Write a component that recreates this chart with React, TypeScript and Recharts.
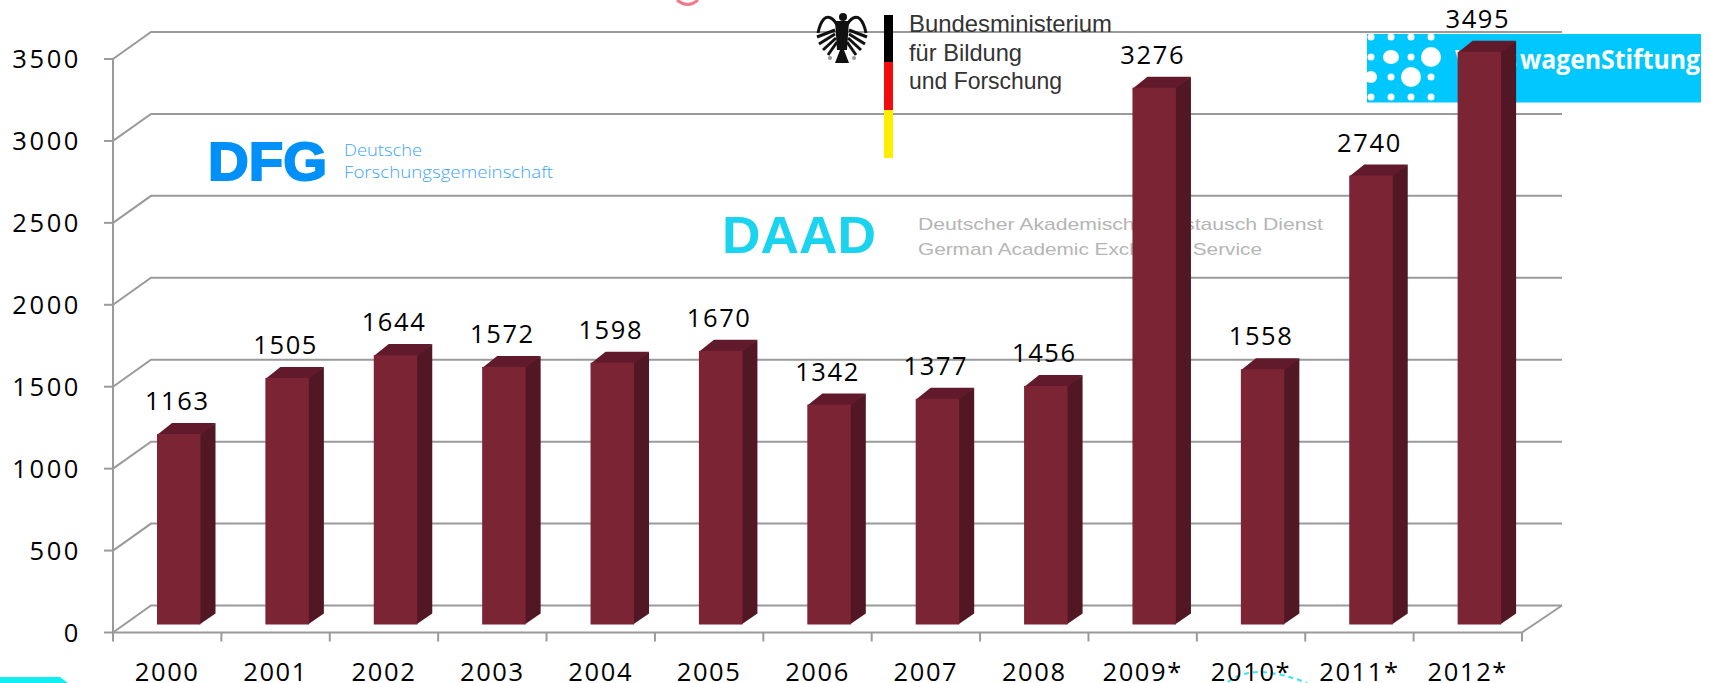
import React from 'react';
import { ComposedChart, Bar, XAxis, YAxis, CartesianGrid, LabelList } from 'recharts';

const years = ['2000','2001','2002','2003','2004','2005','2006','2007','2008','2009*','2010*','2011*','2012*'];
const counts = [1163,1505,1644,1572,1598,1670,1342,1377,1456,3276,1558,2740,3495];
const yTicks = [0,500,1000,1500,2000,2500,3000,3500];
const rows = years.map((year, i) => ({ year, count: counts[i] }));

const W = 1710, H = 683;
const LEFT = 113, RIGHT = 1522, TOP = 59, BOTTOM = 632.5;
const STEP = (RIGHT - LEFT) / years.length;
const GRID = '#9a9a9a';
const FONT = '"Open Sans", sans-serif';
const FS = 25.5;
const LS = 1.6;

const GridLine = (p: any) => {
  const { x1, x2, y1 } = p;
  const isFloor = y1 > 600;
  return (
    <g>
      <path d={`M${x1} ${y1}L${x1 + 38} ${y1 - 27}L${x2 + 40} ${y1 - 27}`} fill="none" stroke={GRID} strokeWidth={2} />
      {isFloor && <path d={`M${x2} ${y1}L${x2 + 40} ${y1 - 27}`} fill="none" stroke={GRID} strokeWidth={2} />}
    </g>
  );
};

const Bar3D = (p: any) => {
  const { x, y, width, height } = p;
  const fx = x + 12, fy = y - 8;
  const dx = 15, dy = 11;
  return (
    <g>
      <polygon points={`${fx + width - 1},${fy} ${fx + width + dx},${fy - dy} ${fx + width + dx},${fy + height - dy} ${fx + width - 1},${fy + height}`} fill="#521725" />
      <polygon points={`${fx},${fy + 1} ${fx + dx},${fy - dy} ${fx + width + dx},${fy - dy} ${fx + width},${fy + 1}`} fill="#611a2b" />
      <rect x={fx} y={fy} width={width} height={height} fill="#7b2434" />
    </g>
  );
};

const BarLabel = (p: any) => {
  const { x, y, width, value } = p;
  return (
    <text x={x + width / 2 + 10.5} y={y - 32} textAnchor="middle" fontFamily={FONT} fontSize={FS} letterSpacing={LS} fill="#000">
      {value}
    </text>
  );
};

const XTick = (p: any) => {
  const { x, y, payload, index } = p;
  return (
    <g>
      <line x1={x - STEP / 2} x2={x - STEP / 2} y1={y} y2={y + 9} stroke={GRID} strokeWidth={2} />
      {index === years.length - 1 && <line x1={x + STEP / 2} x2={x + STEP / 2} y1={y} y2={y + 9} stroke={GRID} strokeWidth={2} />}
      <text x={x} y={y + 48} textAnchor="middle" fontFamily={FONT} fontSize={FS} letterSpacing={LS} fill="#000">
        {payload.value}
      </text>
    </g>
  );
};

const YTick = (p: any) => {
  const { x, y, payload } = p;
  return (
    <text x={x - 21} y={y + 9} textAnchor="end" fontFamily={FONT} fontSize={FS} letterSpacing={2.6} fill="#000">
      {payload.value}
    </text>
  );
};

const vwDots: [number, number, number, number][] = [
  [1371,37,3.5,3.5],[1391,37,3.5,3.5],[1411,37,3.5,3.5],[1431,37,3.5,3.5],
  [1371,57,3.5,3.5],[1391,57,8,7],[1411,57,3.5,3.5],[1431,57,10,10],
  [1371,77,6,6],[1391,77,3.5,3.5],[1411,77,10,10],[1431,77,3.5,3.5],
  [1371,97,3.5,3.5],[1391,97,3.5,3.5],[1411,97,3.5,3.5],[1431,97,3.5,3.5],
];

const feathers = [
  [835, 30, 817, 37],
  [835, 34, 819, 44],
  [836, 38, 823, 50],
  [837, 42, 828, 55],
];

const Eagle = () => (
  <g>
    <g fill="none" stroke="#111" strokeWidth={3}>
      <path d="M838 27C834 18 828 15 824 19C820 23 819 28 818 33" />
      <path d="M846 27C850 18 856 15 860 19C864 23 865 28 866 33" />
      {feathers.map(([a, b, c, d], i) => (
        <g key={i}>
          <line x1={a} y1={b} x2={c} y2={d} />
          <line x1={2 * 842 - a} y1={b} x2={2 * 842 - c} y2={d} />
        </g>
      ))}
    </g>
    <circle cx={843} cy={17} r={4} fill="#111" />
    <polygon points="835,21 849,21 847,50 837,50" fill="#111" />
    <polygon points="840,50 844,50 849,63 835,63" fill="#111" />
    <g fill="#999">
      <circle cx={830} cy={58} r={2} />
      <circle cx={854} cy={58} r={2} />
    </g>
  </g>
);

const Logos = () => (
  <g>
    {/* DFG */}
    <text x={208} y={180} fontFamily='"Liberation Sans", sans-serif' fontWeight={700} fontSize={54} fill="#0090fa" stroke="#0090fa" strokeWidth={2} textLength={119} lengthAdjust="spacingAndGlyphs">DFG</text>
    <text x={344} y={156} fontFamily='"Open Sans", sans-serif' fontWeight={300} fontSize={17} fill="#3ea5fb" textLength={78} lengthAdjust="spacingAndGlyphs">Deutsche</text>
    <text x={344} y={178} fontFamily='"Open Sans", sans-serif' fontWeight={300} fontSize={17} fill="#3ea5fb" textLength={209} lengthAdjust="spacingAndGlyphs">Forschungsgemeinschaft</text>
    {/* BMBF */}
    <Eagle />
    <rect x={884} y={15} width={9} height={47} fill="#000" />
    <rect x={884} y={62} width={9} height={48} fill="#f20d0d" />
    <rect x={884} y={110} width={9} height={48} fill="#ffee00" />
    <text x={909} y={32} fontFamily='"Liberation Sans", sans-serif' fontSize={24} fill="#333" textLength={203} lengthAdjust="spacingAndGlyphs">Bundesministerium</text>
    <text x={909} y={61} fontFamily='"Liberation Sans", sans-serif' fontSize={24} fill="#333" textLength={113} lengthAdjust="spacingAndGlyphs">für Bildung</text>
    <text x={909} y={89} fontFamily='"Liberation Sans", sans-serif' fontSize={24} fill="#333" textLength={153} lengthAdjust="spacingAndGlyphs">und Forschung</text>
    {/* DAAD */}
    <text x={722} y={253} fontFamily='"Liberation Sans", sans-serif' fontWeight={700} fontSize={52} fill="#1ad3ef" textLength={154} lengthAdjust="spacingAndGlyphs">DAAD</text>
    <text x={918} y={230} fontFamily='"Liberation Sans", sans-serif' fontSize={17} fill="#b5b5b5" textLength={405} lengthAdjust="spacingAndGlyphs">Deutscher Akademischer Austausch Dienst</text>
    <text x={918} y={255} fontFamily='"Liberation Sans", sans-serif' fontSize={17} fill="#b5b5b5" textLength={344} lengthAdjust="spacingAndGlyphs">German Academic Exchange Service</text>
    {/* VolkswagenStiftung */}
    <rect x={1367} y={34} width={334} height={68.5} fill="#00c8ff" />
    {vwDots.map(([cx, cy, rx, ry], i) => (
      <ellipse key={i} cx={cx} cy={cy} rx={rx} ry={ry} fill="#fff" />
    ))}
    <text x={1455} y={69} fontFamily='"Open Sans", sans-serif' fontWeight={700} fontSize={26} fill="#fff" textLength={62} lengthAdjust="spacingAndGlyphs">Volks</text>
    <text x={1520} y={69} fontFamily='"Open Sans", sans-serif' fontWeight={700} fontSize={26} fill="#fff" textLength={180} lengthAdjust="spacingAndGlyphs">wagenStiftung</text>
    {/* cut-off fragments at the page edges */}
    <path d="M677 0Q688 9 698 0" fill="none" stroke="#f4788c" strokeWidth={3} />
    <path d="M0 683L0 677L60 677L68 683Z" fill="#10eef2" />
    <path d="M1228 682Q1240 672 1262 672Q1285 674 1307 683" fill="none" stroke="#35e6ee" strokeWidth={2} strokeDasharray="5 4" />
  </g>
);

export default function App() {
  return (
    <div style={{ position: 'absolute', left: 0, top: 0, width: W, height: H, overflow: 'hidden', background: '#fff' }}>
      <ComposedChart
        width={W}
        height={H}
        data={rows}
        margin={{ top: TOP, right: W - RIGHT, bottom: 0, left: 0 }}
      >
        <CartesianGrid vertical={false} horizontal={GridLine as any} stroke={GRID} />
        <Logos />
        <XAxis
          dataKey="year"
          height={H - BOTTOM}
          interval={0}
          axisLine={{ stroke: GRID, strokeWidth: 2 }}
          tickLine={false}
          tickSize={0}
          tickMargin={0}
          tick={XTick as any}
        />
        <YAxis
          width={LEFT}
          domain={[0, 3500]}
          ticks={yTicks}
          interval={0}
          axisLine={{ stroke: GRID, strokeWidth: 2 }}
          tickLine={{ stroke: GRID, strokeWidth: 2 }}
          tickSize={9}
          tick={YTick as any}
        />
        <Bar dataKey="count" barSize={43.5} shape={Bar3D as any} isAnimationActive={false}>
          <LabelList dataKey="count" content={BarLabel as any} />
        </Bar>
      </ComposedChart>
    </div>
  );
}
